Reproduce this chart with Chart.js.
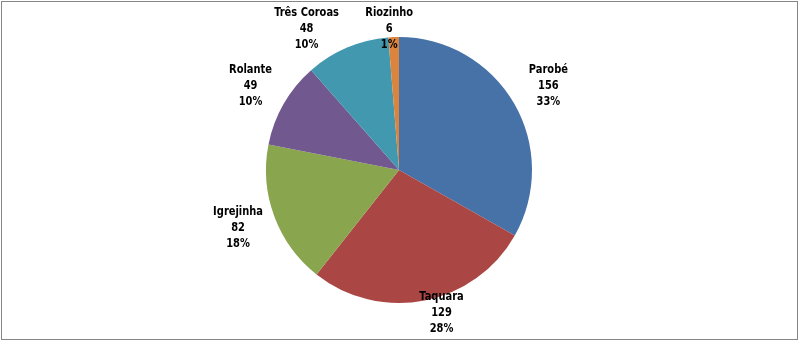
<!DOCTYPE html>
<html>
<head>
<meta charset="utf-8">
<script src="https://cdn.jsdelivr.net/npm/chart.js@4/dist/chart.umd.min.js"></script>
<style>
  html, body { margin: 0; padding: 0; background: #ffffff; }
  #wrap { position: relative; width: 799px; height: 341px; }
</style>
</head>
<body>
<div id="wrap"><canvas id="c" width="799" height="341"></canvas></div>
<script>
// ---- data ----
const categories = ['Parobé', 'Taquara', 'Igrejinha', 'Rolante', 'Três Coroas', 'Riozinho'];
const values = [156, 129, 82, 49, 48, 6];
const percentLabels = ['33%', '28%', '18%', '10%', '10%', '1%'];

// ---- style ----
const colors = ['#4672A8', '#AA4644', '#89A54E', '#71588F', '#4198AF', '#DB843D'];
const labelRadiusFactor = 1.27;
const labelNudges = [[3.5, 1], [10, -23], [-2.5, -0.5], [-2, 0], [-26.5, 14], [-3, 27.5]];
const labelFont = 'bold 12.5px "DejaVu Sans Condensed", "Liberation Sans", sans-serif';
const labelSquash = 0.88;

const frameAndLabels = {
  id: 'frameAndLabels',
  afterDraw(chart) {
    const ctx = chart.ctx;
    ctx.save();
    ctx.strokeStyle = '#868686';
    ctx.lineWidth = 1;
    ctx.strokeRect(1.5, 1.5, 796, 338);
    const meta = chart.getDatasetMeta(0);
    ctx.font = labelFont;
    ctx.fillStyle = '#000000';
    ctx.textAlign = 'center';
    ctx.textBaseline = 'middle';
    meta.data.forEach((arc, i) => {
      const p = arc.getProps(['x', 'y', 'startAngle', 'endAngle', 'outerRadius'], true);
      const mid = (p.startAngle + p.endAngle) / 2;
      const r = p.outerRadius * labelRadiusFactor;
      const cx = p.x + Math.cos(mid) * r + labelNudges[i][0];
      const cy = p.y + Math.sin(mid) * r + labelNudges[i][1];
      const lines = [categories[i], String(values[i]), percentLabels[i]];
      lines.forEach((t, k) => {
        ctx.save();
        ctx.translate(cx, cy + (k - 1) * 16);
        ctx.scale(labelSquash, 1);
        ctx.fillText(t, 0, 0);
        ctx.restore();
      });
    });
    ctx.restore();
  }
};

new Chart(document.getElementById('c'), {
  type: 'pie',
  data: {
    labels: categories,
    datasets: [{
      data: values,
      backgroundColor: colors,
      borderWidth: 0,
      hoverOffset: 0
    }]
  },
  options: {
    responsive: false,
    animation: false,
    layout: { padding: { top: 37, bottom: 38, left: 0, right: 1 } },
    plugins: {
      legend: { display: false },
      tooltip: { enabled: false }
    }
  },
  plugins: [frameAndLabels]
});
</script>
</body>
</html>
